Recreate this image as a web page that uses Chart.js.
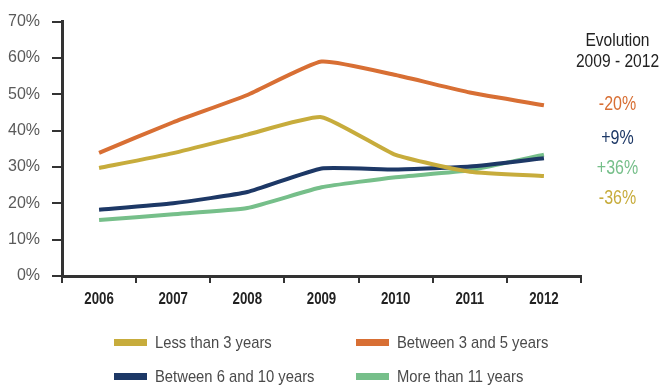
<!DOCTYPE html>
<html>
<head>
<meta charset="utf-8">
<script src="https://cdn.jsdelivr.net/npm/chart.js@4"></script>
<style>
  html, body { margin: 0; padding: 0; background: #fff; }
  #wrap { position: relative; width: 665px; height: 385px; }
  #chart { position: absolute; left: 0; top: 0; }
  .cond { font-family: "Liberation Sans", Arial, sans-serif; }
  #evo { position: absolute; left: 565px; top: 29px; width: 105px; text-align: center; transform: scaleX(0.82); transform-origin: center top; }
  #evo .title { color: #222; font-size: 19px; line-height: 21px; }
  #evo .pct { font-size: 19.5px; position: absolute; width: 105px; left: 0; }
  #legend { position: absolute; left: 0; top: 333px; width: 665px; }
  .item { position: absolute; height: 20px; color: #4a4a4a; font-size: 17px; }
  .item span.box { position: absolute; left: 0; top: 6px; width: 33px; height: 7px; }
  .item span.txt { position: absolute; left: 41px; top: 0; white-space: nowrap; transform: scaleX(0.87); transform-origin: left center; }
</style>
</head>
<body>
<div id="wrap">
  <canvas id="chart" width="665" height="385"></canvas>
  <div id="evo" class="cond"></div>
  <div id="legend" class="cond"></div>
</div>
<script>
// data
const years = ['2006', '2007', '2008', '2009', '2010', '2011', '2012'];
const seriesNames = ['Less than 3 years', 'Between 3 and 5 years', 'Between 6 and 10 years', 'More than 11 years'];
const lessThan3 = [29.7, 33.8, 38.9, 43.7, 33.3, 28.7, 27.5];
const between3and5 = [33.9, 42.3, 49.8, 59.0, 55.3, 50.5, 47.0];
const between6and10 = [18.2, 20.0, 23.1, 29.6, 29.3, 30.1, 32.4];
const moreThan11 = [15.4, 17.0, 18.7, 24.4, 27.2, 29.1, 33.4];
const evolutionLabels = ['-20%', '+9%', '+36%', '-36%'];

const colors = ['#c7ac3c', '#d86f34', '#1d3866', '#76bf8a'];

function makeDataset(label, data, color) {
    return {
        label: label,
        data: data,
        borderColor: color,
        backgroundColor: color,
        borderWidth: 4,
        pointRadius: 0,
        tension: 0.15,
        fill: false
    };
}

// draws the year labels in a narrow (condensed) style
const narrowXLabels = {
    id: 'narrowXLabels',
    afterDraw(chart) {
        const x = chart.scales.x;
        const c = chart.ctx;
        c.save();
        c.fillStyle = '#222';
        c.font = 'bold 17px "Liberation Sans", Arial, sans-serif';
        c.textAlign = 'center';
        c.textBaseline = 'middle';
        x.ticks.forEach((t, i) => {
            c.save();
            c.translate(x.getPixelForTick(i), x.bottom - 7);
            c.scale(0.78, 1);
            c.fillText(x.getLabelForValue(t.value), 0, 0);
            c.restore();
        });
        c.restore();
    }
};

function drawChart() {
    const ctx = document.getElementById('chart').getContext('2d');
    new Chart(ctx, {
        type: 'line',
        data: {
            labels: years,
            datasets: [
                makeDataset(seriesNames[0], lessThan3, colors[0]),
                makeDataset(seriesNames[1], between3and5, colors[1]),
                makeDataset(seriesNames[2], between6and10, colors[2]),
                makeDataset(seriesNames[3], moreThan11, colors[3])
            ]
        },
        options: {
            responsive: false,
            animation: false,
            layout: { padding: { left: 0, right: 84, top: 12, bottom: 79 } },
            plugins: {
                legend: { display: false },
                tooltip: { enabled: false }
            },
            scales: {
                x: {
                    offset: true,
                    afterFit: scale => { scale.height = 30; },
                    grid: {
                        offset: true,
                        drawOnChartArea: false,
                        drawTicks: true,
                        tickLength: 7,
                        color: '#333',
                        lineWidth: 2
                    },
                    border: { color: '#333', width: 3 },
                    ticks: {
                        color: 'rgba(0,0,0,0)',
                        padding: 5,
                        font: { size: 13 }
                    }
                },
                y: {
                    min: 0,
                    max: 70,
                    afterFit: scale => { scale.width = 62; },
                    grid: {
                        drawOnChartArea: false,
                        drawTicks: true,
                        tickLength: 10,
                        color: '#333',
                        lineWidth: 2
                    },
                    border: { color: '#333', width: 3 },
                    ticks: {
                        stepSize: 10,
                        color: '#5a5a5a',
                        padding: 12,
                        font: { family: '"Liberation Sans", Arial, sans-serif', size: 16 },
                        callback: v => v + '%'
                    }
                }
            }
        },
        plugins: [narrowXLabels]
    });
}

// evolution block on the right
const evo = document.getElementById('evo');
evo.innerHTML = '<div class="title">Evolution<br>2009 - 2012</div>';
const evoOrder = [1, 2, 3, 0];
const evoTops = [63, 97, 127, 157];
evoOrder.forEach((si, i) => {
    const d = document.createElement('div');
    d.className = 'pct';
    d.style.top = evoTops[i] + 'px';
    d.style.color = colors[si];
    d.textContent = evolutionLabels[i];
    evo.appendChild(d);
});

// legend in two columns
const legend = document.getElementById('legend');
const legendPos = [[114, 0], [356, 0], [114, 34], [356, 34]];
seriesNames.forEach((name, i) => {
    const item = document.createElement('div');
    item.className = 'item';
    item.style.left = legendPos[i][0] + 'px';
    item.style.top = legendPos[i][1] + 'px';
    item.innerHTML = '<span class="box" style="background:' + colors[i] + '"></span><span class="txt">' + name + '</span>';
    legend.appendChild(item);
});

Promise.all([
    document.fonts.load('16px "Liberation Sans"'),
    document.fonts.load('bold 17px "Liberation Sans"')
]).then(drawChart, drawChart);
</script>
</body>
</html>
